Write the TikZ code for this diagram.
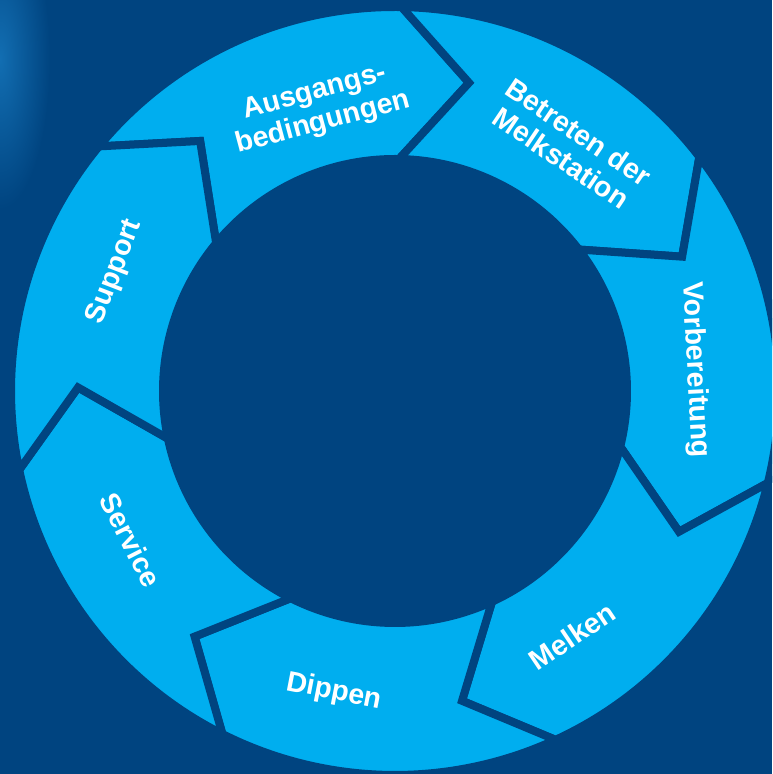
\documentclass[tikz,border=0pt]{standalone}
\usepackage{fontspec}
\setmainfont{Liberation Sans}
\definecolor{bgblue}{RGB}{0,68,128}
\definecolor{glowblue}{RGB}{18,110,178}
\definecolor{ringblue}{RGB}{0,174,239}
\begin{document}
\begin{tikzpicture}[x=1pt,y=1pt,
  seg/.style={fill=ringblue, draw=bgblue, line width=8pt, line join=miter, miter limit=20},
  lbl/.style={text=white, font=\bfseries\fontsize{28.5}{31.5}\selectfont, align=center, inner sep=0pt}]
\useasboundingbox (0,0) rectangle (772,774);
\clip (0,0) rectangle (772,774);
\fill[bgblue] (0,0) rectangle (772,774);
\shade[inner color=glowblue, outer color=bgblue] (0,715) ellipse [x radius=50, y radius=150];
% ring segments: boundaries at 89 - k*360/7
\begin{scope}[shift={(395,383)}]
\foreach \T [count=\i] in {140.43,89,37.57,-13.86,-65.29,-116.71,-168.14}{
  \pgfmathsetmacro{\H}{\T-51.4286}
  \pgfmathsetmacro{\Ht}{\H-12.5}
  \pgfmathsetmacro{\Tt}{\T-12.5}
  \draw[seg] (\T:384) arc[start angle=\T, end angle=\H, radius=384]
    -- (\Ht:317) -- (\H:232) arc[start angle=\H, end angle=\T, radius=232]
    -- (\Tt:317) -- cycle;
}
\node[lbl, rotate=15]  (ausg) at (-76,283)  {Ausgangs-\\bedingungen};
\node[lbl, rotate=-34] (betr) at (175,246)  {Betreten der\\Melkstation};
\node[lbl, rotate=-87] (vorb) at (300,21)   {Vorbereitung};
\node[lbl, rotate=34]  (melk) at (177,-245) {Melken};
\node[lbl, rotate=-11] (dipp) at (-61,-301) {Dippen};
\node[lbl, rotate=-63] (serv) at (-264,-149){Service};
\node[lbl, rotate=69]  (supp) at (-280,119) {Support};
\end{scope}
\end{tikzpicture}
\end{document}
